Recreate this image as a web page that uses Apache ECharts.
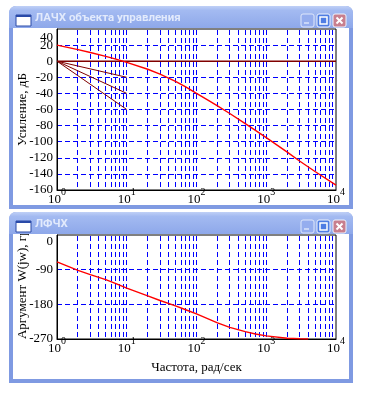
<!DOCTYPE html>
<html><head><meta charset="utf-8">
<script src="https://cdn.jsdelivr.net/npm/echarts@6/dist/echarts.min.js"></script>
<style>html,body{margin:0;padding:0;background:#fff}#c{width:365px;height:396px}</style>
</head><body><div id="c"></div>
<script>
// ---- data ----
const magFreq = [1, 2, 3, 5, 7, 10, 20, 30, 50, 70, 100, 150, 200, 300, 500, 700, 1000, 2000, 3000, 5000, 10000];
const magDb   = [20, 14.3, 10.8, 6, 2.5, -1.5, -10, -16, -25, -32, -40, -49, -55.5, -65, -77.5, -86, -95, -113, -124, -137, -154];
const phaseFreq = [1, 2, 3, 5, 7, 10, 20, 30, 50, 70, 100, 200, 300, 500, 700, 1000, 2000, 3000, 4000];
const phaseDeg  = [-70, -92, -103, -116, -126, -138, -158, -170, -184, -194, -205, -228, -240, -251, -257, -262, -268, -269.5, -270];
const zeroLineFreq = [1, 10000];
const zeroLineDb = [0, 0];
const slopeFreq = [1, 10];
const slope20Db = [0, -20];
const slope40Db = [0, -40];
const slope60Db = [0, -60];
const vGridFreq = [2,3,4,5,6,7,8,9,10,20,30,40,50,60,70,80,90,100,200,300,400,500,600,700,800,900,1000,2000,3000,4000,5000,6000,7000,8000,9000];
const magAxis = {min: -160, max: 40, step: 20};
const phaseAxis = {min: -270, max: 0, step: 90};
const freqAxis = {min: 1, max: 10000};
const titleTop = 'ЛАЧХ объекта управления';
const titleBottom = 'ЛФЧХ';
const magAxisName = 'Усиление, дБ';
const phaseAxisName = 'Аргумент W(jw), град';
const freqAxisName = 'Частота, рад/сек';

const pairs = (xs, ys) => xs.map((x, i) => [x, ys[i]]);
const serif = '"Liberation Serif", "Times New Roman", serif';
const gridBlue = '#0000ff';

function xAxisCfg(gi, withName) {
  return {
    type: 'log', logBase: 10, min: freqAxis.min, max: freqAxis.max, splitNumber: 4, gridIndex: gi,
    axisLine: {show: true, onZero: false, lineStyle: {color: '#000', width: 1}},
    axisTick: {show: false},
    splitLine: {show: false},
    minorSplitLine: {show: false},
    axisLabel: {
      margin: -3, showMinLabel: true, showMaxLabel: true,
      formatter: v => '{b|10}{s|' + Math.round(Math.log10(v)) + '}',
      rich: {
        b: {fontFamily: serif, fontSize: 13, color: '#000', lineHeight: 26},
        s: {fontFamily: serif, fontSize: 10, color: '#000', lineHeight: 13, verticalAlign: 'top'}
      }
    },
    name: withName ? freqAxisName : '', nameLocation: 'middle', nameGap: 22, nameMoveOverlap: false,
    nameTextStyle: {fontFamily: serif, fontSize: 13, color: '#000'}
  };
}
// main value axis: all labels except the top one
function yAxisCfg(gi, ax, name, nameShift) {
  return {
    type: 'value', gridIndex: gi, min: ax.min, max: ax.max, interval: ax.step,
    axisLine: {show: true, onZero: false, lineStyle: {color: '#000', width: 1}},
    axisTick: {show: false},
    splitLine: {show: true, showMinLine: false, showMaxLine: false, lineStyle: {color: gridBlue, type: [5, 3], width: 1}},
    axisLabel: {
      margin: 4, showMinLabel: true, showMaxLabel: false,
      fontFamily: serif, fontSize: 13, color: '#000'
    },
    name: name, nameLocation: 'middle', nameGap: 28, nameMoveOverlap: false,
    nameTextStyle: {fontFamily: serif, fontSize: 13, color: '#000', padding: [0, 0, 0, nameShift]}
  };
}
// twin axis carrying only the top label, nudged down inside the frame
function yTopLabelCfg(gi, ax, shift) {
  return {
    type: 'value', gridIndex: gi, min: ax.min, max: ax.max, interval: ax.step, position: 'left',
    axisLine: {show: false}, axisTick: {show: false}, splitLine: {show: false},
    axisLabel: {
      margin: 4, showMinLabel: false, showMaxLabel: true,
      formatter: v => v === ax.max ? '{t|' + v + '}' : '',
      rich: {t: {fontFamily: serif, fontSize: 13, color: '#000', lineHeight: 1, padding: [2 * shift, 0, 0, 0]}}
    }
  };
}
function vGridSeries(xi, yi, yRef) {
  return {
    type: 'custom', xAxisIndex: xi, yAxisIndex: yi, silent: true, z: 1, clip: false,
    itemStyle: {color: gridBlue},
    data: vGridFreq.map(f => [f, yRef]),
    encode: {x: 0, y: 1},
    renderItem: (params, api) => {
      const p = api.coord([api.value(0), api.value(1)]);
      const cs = params.coordSys;
      const x = Math.floor(p[0]) + 0.5;
      return {type: 'line', silent: true,
        shape: {x1: x, y1: cs.y + 1, x2: x, y2: cs.y + cs.height},
        style: {stroke: gridBlue, lineWidth: 1, lineDash: [5, 3], fill: null}};
    }
  };
}
function lineSeries(xi, yi, data, color, width) {
  return {type: 'line', xAxisIndex: xi, yAxisIndex: yi, data: data, showSymbol: false, symbol: 'none',
    silent: true, z: 3, lineStyle: {color: color, width: width}};
}

const titleGrad = {type: 'linear', x: 0, y: 0, x2: 0, y2: 1, colorStops: [
  {offset: 0, color: '#c0d0f6'}, {offset: 0.2, color: '#a3baf1'}, {offset: 1, color: '#8ea8ea'}]};
function windowGraphics(x, y, w, h, th, title) {
  const g = [];
  g.push({type: 'rect', z: -10, shape: {x: x, y: y, width: w, height: h, r: [7, 7, 0, 0]}, style: {fill: '#7f9ae2'}});
  g.push({type: 'rect', z: -9, shape: {x: x + 4, y: y + th, width: w - 8, height: h - th - 4}, style: {fill: '#ffffff'}});
  g.push({type: 'rect', z: 100, shape: {x: x, y: y, width: w, height: th, r: [7, 7, 0, 0]}, style: {fill: titleGrad}});
  g.push({type: 'rect', z: 101, shape: {x: x + 7, y: y + 9, width: 15, height: 11}, style: {fill: '#ffffff', stroke: '#2a4aa8', lineWidth: 1}});
  g.push({type: 'rect', z: 102, shape: {x: x + 7, y: y + 9, width: 15, height: 2}, style: {fill: '#2a4aa8'}});
  g.push({type: 'text', z: 101, x: x + 26, y: y + th / 2 + 1, style: {text: title, fill: '#e2eafc',
    font: 'bold 11.5px Roboto, "DejaVu Sans", sans-serif', verticalAlign: 'middle', align: 'left'}});
  const by = y + 8, bs = 13;
  g.push({type: 'rect', z: 101, shape: {x: x + 292, y: by, width: bs, height: bs, r: 2}, style: {fill: '#95adee', stroke: '#dfe7fb', lineWidth: 1}});
  g.push({type: 'rect', z: 102, shape: {x: x + 295, y: by + 8, width: 5, height: 2}, style: {fill: '#c9d6f7'}});
  g.push({type: 'rect', z: 101, shape: {x: x + 308, y: by, width: bs, height: bs, r: 2}, style: {fill: '#4f7de3', stroke: '#eef3fd', lineWidth: 1}});
  g.push({type: 'rect', z: 102, shape: {x: x + 311, y: by + 3, width: 7, height: 7}, style: {fill: 'none', stroke: '#ffffff', lineWidth: 1.5}});
  g.push({type: 'rect', z: 101, shape: {x: x + 324, y: by, width: bs, height: bs, r: 2}, style: {fill: '#c87f8e', stroke: '#eef3fd', lineWidth: 1}});
  g.push({type: 'line', z: 102, shape: {x1: x + 327.5, y1: by + 3.5, x2: x + 333.5, y2: by + 9.5}, style: {stroke: '#ffffff', lineWidth: 2}});
  g.push({type: 'line', z: 102, shape: {x1: x + 333.5, y1: by + 3.5, x2: x + 327.5, y2: by + 9.5}, style: {stroke: '#ffffff', lineWidth: 2}});
  return g;
}

const chart = echarts.init(document.getElementById('c'), null, {renderer: 'canvas'});
chart.setOption({
  animation: false,
  backgroundColor: '#ffffff',
  grid: [
    {left: 57, top: 29, width: 279, height: 161, show: true, borderColor: '#000', borderWidth: 1, backgroundColor: '#fff', z: -5},
    {left: 57, top: 235, width: 279, height: 104, show: true, borderColor: '#000', borderWidth: 1, backgroundColor: '#fff', z: -5}
  ],
  xAxis: [xAxisCfg(0, false), xAxisCfg(1, true)],
  yAxis: [yAxisCfg(0, magAxis, magAxisName, 0), yAxisCfg(1, phaseAxis, phaseAxisName, 18),
          yTopLabelCfg(0, magAxis, 8.5), yTopLabelCfg(1, phaseAxis, 7)],
  graphic: {elements: windowGraphics(9, 6, 344, 203, 22, titleTop).concat(windowGraphics(9, 212, 344, 171, 22, titleBottom))},
  series: [
    vGridSeries(0, 0, magAxis.max),
    vGridSeries(1, 1, phaseAxis.max),
    lineSeries(0, 0, pairs(zeroLineFreq, zeroLineDb), '#800000', 1.5),
    lineSeries(0, 0, pairs(slopeFreq, slope20Db), '#800000', 1),
    lineSeries(0, 0, pairs(slopeFreq, slope40Db), '#800000', 1),
    lineSeries(0, 0, pairs(slopeFreq, slope60Db), '#800000', 1),
    lineSeries(0, 0, pairs(magFreq, magDb), '#ff0000', 1.4),
    lineSeries(1, 1, pairs(phaseFreq, phaseDeg), '#ff0000', 1.4)
  ]
});
</script></body></html>
